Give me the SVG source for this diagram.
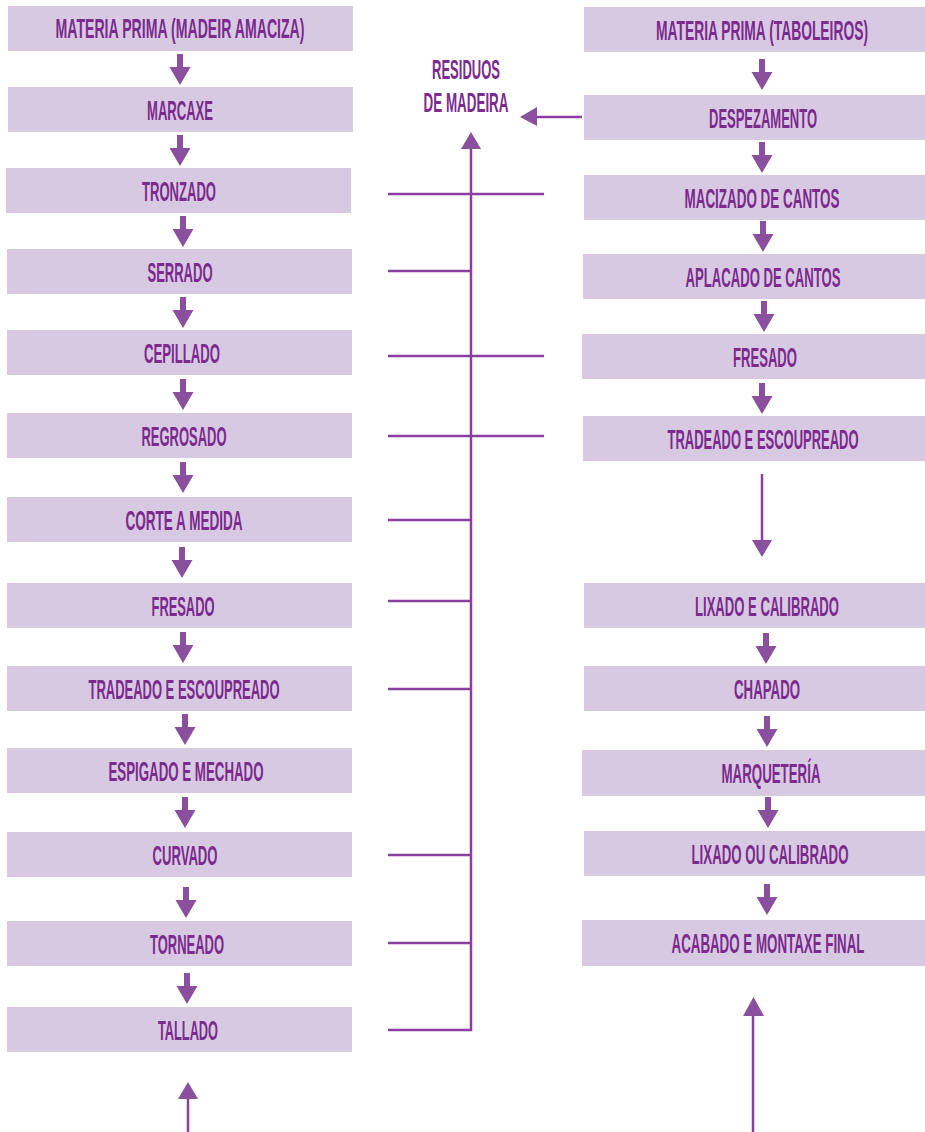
<svg xmlns="http://www.w3.org/2000/svg" xmlns:xlink="http://www.w3.org/1999/xlink" width="925" height="1132" viewBox="0 0 925 1132">
<style>
.box{fill:#d8c9e2}
.lbl{font-family:"Liberation Sans",Arial,sans-serif;font-size:27px;font-weight:bold;fill:#7b2a8e;text-anchor:middle}
.ln{stroke:#8a3ea0;stroke-width:2.5;fill:none}
.ah{fill:#8a4f9d}
</style>
<defs>
<path id="fat" d="M-3,0 H3 V13 H10.5 L0,31 L-10.5,13 H-3 Z" fill="#8a4f9d"/>
</defs>
<rect width="925" height="1132" fill="#fff"/>
<g id="left-nodes">
<g id="n1"><rect class="box" x="8" y="6" width="345" height="45"/><text class="lbl" transform="translate(180,38) scale(0.5,1)" textLength="498" lengthAdjust="spacingAndGlyphs">MATERIA PRIMA (MADEIR AMACIZA)</text></g>
<g id="n2"><rect class="box" x="8" y="87" width="345" height="45"/><text class="lbl" transform="translate(180,120) scale(0.5,1)" textLength="132" lengthAdjust="spacingAndGlyphs">MARCAXE</text></g>
<g id="n3"><rect class="box" x="6" y="168" width="345" height="45"/><text class="lbl" transform="translate(179,201) scale(0.5,1)" textLength="148" lengthAdjust="spacingAndGlyphs">TRONZADO</text></g>
<g id="n4"><rect class="box" x="7" y="249" width="345" height="45"/><text class="lbl" transform="translate(180,282) scale(0.5,1)" textLength="130" lengthAdjust="spacingAndGlyphs">SERRADO</text></g>
<g id="n5"><rect class="box" x="7" y="330" width="345" height="45"/><text class="lbl" transform="translate(182,363) scale(0.5,1)" textLength="152" lengthAdjust="spacingAndGlyphs">CEPILLADO</text></g>
<g id="n6"><rect class="box" x="7" y="413" width="345" height="45"/><text class="lbl" transform="translate(184,446) scale(0.5,1)" textLength="170" lengthAdjust="spacingAndGlyphs">REGROSADO</text></g>
<g id="n7"><rect class="box" x="7" y="497" width="345" height="45"/><text class="lbl" transform="translate(184,530) scale(0.5,1)" textLength="234" lengthAdjust="spacingAndGlyphs">CORTE A MEDIDA</text></g>
<g id="n8"><rect class="box" x="7" y="583" width="345" height="45"/><text class="lbl" transform="translate(183,616) scale(0.5,1)" textLength="126" lengthAdjust="spacingAndGlyphs">FRESADO</text></g>
<g id="n9"><rect class="box" x="7" y="666" width="345" height="45"/><text class="lbl" transform="translate(184,699) scale(0.5,1)" textLength="382" lengthAdjust="spacingAndGlyphs">TRADEADO E ESCOUPREADO</text></g>
<g id="n10"><rect class="box" x="7" y="748" width="345" height="45"/><text class="lbl" transform="translate(186,781) scale(0.5,1)" textLength="310" lengthAdjust="spacingAndGlyphs">ESPIGADO E MECHADO</text></g>
<g id="n11"><rect class="box" x="7" y="832" width="345" height="45"/><text class="lbl" transform="translate(185,865) scale(0.5,1)" textLength="130" lengthAdjust="spacingAndGlyphs">CURVADO</text></g>
<g id="n12"><rect class="box" x="7" y="921" width="345" height="45"/><text class="lbl" transform="translate(187,954) scale(0.5,1)" textLength="148" lengthAdjust="spacingAndGlyphs">TORNEADO</text></g>
<g id="n13"><rect class="box" x="7" y="1007" width="345" height="45"/><text class="lbl" transform="translate(188,1040) scale(0.5,1)" textLength="120" lengthAdjust="spacingAndGlyphs">TALLADO</text></g>
</g>
<g id="right-nodes">
<g id="r1"><rect class="box" x="584" y="7" width="341" height="45"/><text class="lbl" transform="translate(762,40) scale(0.5,1)" textLength="424" lengthAdjust="spacingAndGlyphs">MATERIA PRIMA (TABOLEIROS)</text></g>
<g id="r2"><rect class="box" x="584" y="95" width="341" height="45"/><text class="lbl" transform="translate(763,128) scale(0.5,1)" textLength="216" lengthAdjust="spacingAndGlyphs">DESPEZAMENTO</text></g>
<g id="r3"><rect class="box" x="584" y="175" width="341" height="45"/><text class="lbl" transform="translate(762,208) scale(0.5,1)" textLength="310" lengthAdjust="spacingAndGlyphs">MACIZADO DE CANTOS</text></g>
<g id="r4"><rect class="box" x="583" y="254" width="342" height="45"/><text class="lbl" transform="translate(763,287) scale(0.5,1)" textLength="310" lengthAdjust="spacingAndGlyphs">APLACADO DE CANTOS</text></g>
<g id="r5"><rect class="box" x="582" y="334" width="343" height="45"/><text class="lbl" transform="translate(765,367) scale(0.5,1)" textLength="128" lengthAdjust="spacingAndGlyphs">FRESADO</text></g>
<g id="r6"><rect class="box" x="583" y="416" width="342" height="45"/><text class="lbl" transform="translate(763,449) scale(0.5,1)" textLength="382" lengthAdjust="spacingAndGlyphs">TRADEADO E ESCOUPREADO</text></g>
<g id="r7"><rect class="box" x="584" y="583" width="341" height="45"/><text class="lbl" transform="translate(767,616) scale(0.5,1)" textLength="288" lengthAdjust="spacingAndGlyphs">LIXADO E CALIBRADO</text></g>
<g id="r8"><rect class="box" x="584" y="666" width="341" height="45"/><text class="lbl" transform="translate(767,699) scale(0.5,1)" textLength="132" lengthAdjust="spacingAndGlyphs">CHAPADO</text></g>
<g id="r9"><rect class="box" x="582" y="750" width="343" height="46"/><text class="lbl" transform="translate(771,783) scale(0.5,1)" textLength="198" lengthAdjust="spacingAndGlyphs">MARQUETERÍA</text></g>
<g id="r10"><rect class="box" x="584" y="831" width="341" height="45"/><text class="lbl" transform="translate(770,864) scale(0.5,1)" textLength="314" lengthAdjust="spacingAndGlyphs">LIXADO OU CALIBRADO</text></g>
<g id="r11"><rect class="box" x="582" y="920" width="343" height="46"/><text class="lbl" transform="translate(768,953) scale(0.5,1)" textLength="386" lengthAdjust="spacingAndGlyphs">ACABADO E MONTAXE FINAL</text></g>
</g>
<g id="residuos">
<text class="lbl" transform="translate(466,79) scale(0.5,1)" textLength="136" lengthAdjust="spacingAndGlyphs">RESIDUOS</text>
<text class="lbl" transform="translate(466,112) scale(0.5,1)" textLength="170" lengthAdjust="spacingAndGlyphs">DE MADEIRA</text>
</g>
<g id="connectors">
<use xlink:href="#fat" x="180" y="54"/>
<use xlink:href="#fat" x="180" y="135"/>
<use xlink:href="#fat" x="183" y="216"/>
<use xlink:href="#fat" x="183" y="297"/>
<use xlink:href="#fat" x="183" y="379"/>
<use xlink:href="#fat" x="183" y="462"/>
<use xlink:href="#fat" x="182" y="547"/>
<use xlink:href="#fat" x="183" y="632"/>
<use xlink:href="#fat" x="185" y="714"/>
<use xlink:href="#fat" x="185" y="797"/>
<use xlink:href="#fat" x="186" y="887"/>
<use xlink:href="#fat" x="187" y="973"/>
<use xlink:href="#fat" x="762" y="59"/>
<use xlink:href="#fat" x="762" y="142"/>
<use xlink:href="#fat" x="763" y="221"/>
<use xlink:href="#fat" x="764" y="301"/>
<use xlink:href="#fat" x="762" y="383"/>
<use xlink:href="#fat" x="766" y="633"/>
<use xlink:href="#fat" x="767" y="716"/>
<use xlink:href="#fat" x="768" y="797"/>
<use xlink:href="#fat" x="767" y="884"/>
<line class="ln" x1="762" y1="474" x2="762" y2="541"/>
<path class="ah" d="M752,540 H772 L762,557 Z"/>
<line class="ln" x1="188" y1="1132" x2="188" y2="1098"/>
<path class="ah" d="M178,1099 H198 L188,1082 Z"/>
<line class="ln" x1="753" y1="1132" x2="753" y2="1015"/>
<path class="ah" d="M743,1016 H764 L753.5,997 Z"/>
<line class="ln" x1="582" y1="117" x2="536" y2="117"/>
<path class="ah" d="M537,107 V126 L520,117 Z"/>
<path class="ln" d="M471,148 V1030 H388"/>
<path class="ah" d="M461,149 H481 L471,132 Z"/>
<line class="ln" x1="388" y1="194" x2="544" y2="194"/>
<line class="ln" x1="388" y1="271" x2="471" y2="271"/>
<line class="ln" x1="388" y1="356" x2="544" y2="356"/>
<line class="ln" x1="388" y1="436" x2="544" y2="436"/>
<line class="ln" x1="388" y1="520" x2="471" y2="520"/>
<line class="ln" x1="388" y1="601" x2="471" y2="601"/>
<line class="ln" x1="388" y1="689" x2="471" y2="689"/>
<line class="ln" x1="388" y1="855" x2="471" y2="855"/>
<line class="ln" x1="388" y1="943" x2="471" y2="943"/>
</g>
</svg>
